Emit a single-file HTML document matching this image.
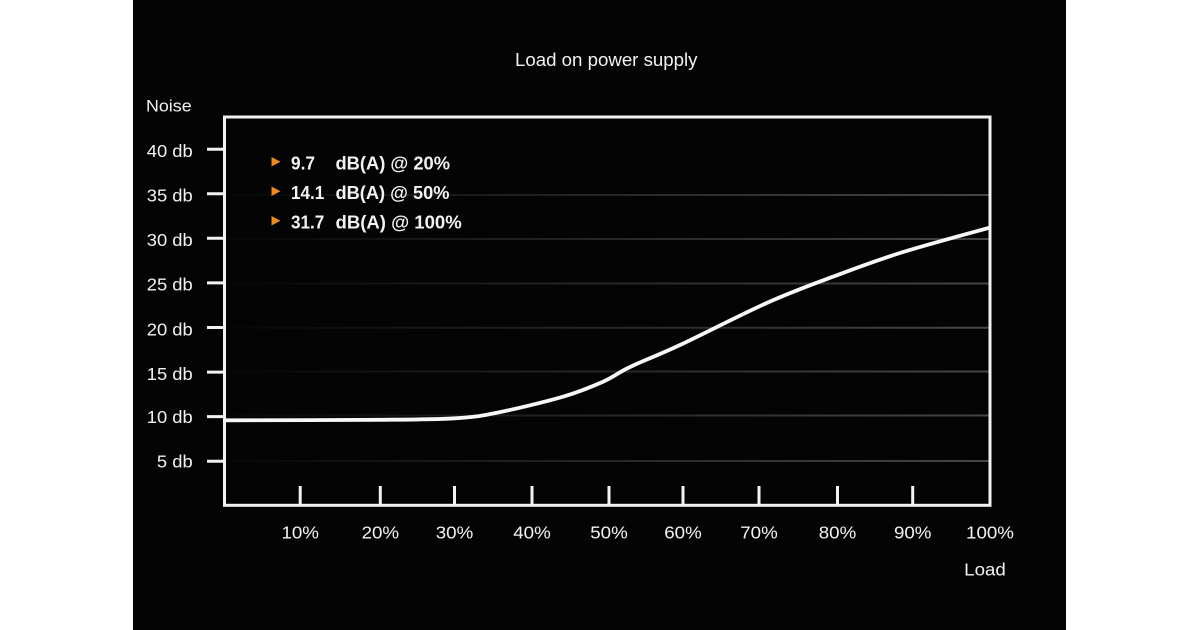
<!DOCTYPE html>
<html>
<head>
<meta charset="utf-8">
<style>
html,body{margin:0;padding:0;background:#ffffff;}
svg{display:block;}
text{font-family:"Liberation Sans",Arial,Helvetica,sans-serif;fill:#f2f2f2;}
</style>
</head>
<body>
<svg width="1200" height="630" viewBox="0 0 1200 630" xmlns="http://www.w3.org/2000/svg">
<defs>
<linearGradient id="gg" x1="225" y1="0" x2="990" y2="0" gradientUnits="userSpaceOnUse">
<stop offset="0" stop-color="#ffffff" stop-opacity="0.01"/>
<stop offset="0.35" stop-color="#ffffff" stop-opacity="0.10"/>
<stop offset="1" stop-color="#ffffff" stop-opacity="0.26"/>
</linearGradient>
</defs>
<rect x="0" y="0" width="1200" height="630" fill="#ffffff"/>
<rect x="133" y="0" width="933" height="630" fill="#040405"/>

<!-- title -->
<g transform="translate(515,66) scale(1.02,1)"><text x="0" y="0" font-size="18.3">Load on power supply</text></g>

<!-- gridlines -->
<g stroke="url(#gg)" stroke-width="2">
<line x1="226" y1="195" x2="989" y2="195"/>
<line x1="226" y1="239" x2="989" y2="239"/>
<line x1="226" y1="283.5" x2="989" y2="283.5"/>
<line x1="226" y1="327.8" x2="989" y2="327.8"/>
<line x1="226" y1="371.5" x2="989" y2="371.5"/>
<line x1="226" y1="415.5" x2="989" y2="415.5"/>
<line x1="226" y1="461" x2="989" y2="461"/>
</g>

<!-- frame -->
<rect x="224.5" y="117" width="765.5" height="388.3" fill="none" stroke="#f2f2f2" stroke-width="3"/>

<!-- y ticks -->
<g stroke="#f2f2f2" stroke-width="3">
<line x1="207" y1="149.2" x2="224" y2="149.2"/>
<line x1="207" y1="193.8" x2="224" y2="193.8"/>
<line x1="207" y1="238.3" x2="224" y2="238.3"/>
<line x1="207" y1="282.9" x2="224" y2="282.9"/>
<line x1="207" y1="327.5" x2="224" y2="327.5"/>
<line x1="207" y1="372.1" x2="224" y2="372.1"/>
<line x1="207" y1="416.6" x2="224" y2="416.6"/>
<line x1="207" y1="461.2" x2="224" y2="461.2"/>
</g>

<!-- x ticks -->
<g stroke="#f2f2f2" stroke-width="3">
<line x1="300.2" y1="486" x2="300.2" y2="505"/>
<line x1="380.3" y1="486" x2="380.3" y2="505"/>
<line x1="454.5" y1="486" x2="454.5" y2="505"/>
<line x1="532" y1="486" x2="532" y2="505"/>
<line x1="609" y1="486" x2="609" y2="505"/>
<line x1="683" y1="486" x2="683" y2="505"/>
<line x1="759" y1="486" x2="759" y2="505"/>
<line x1="837.5" y1="486" x2="837.5" y2="505"/>
<line x1="912.7" y1="486" x2="912.7" y2="505"/>
</g>

<!-- y labels -->
<g transform="translate(146,111.7) scale(1.05,1)"><text x="0" y="0" font-size="17">Noise</text></g>
<g font-size="17.5" text-anchor="end">
<g transform="translate(192.7,157) scale(1.05,1)"><text x="0" y="0">40 db</text></g>
<g transform="translate(192.7,201.6) scale(1.05,1)"><text x="0" y="0">35 db</text></g>
<g transform="translate(192.7,246.1) scale(1.05,1)"><text x="0" y="0">30 db</text></g>
<g transform="translate(192.7,290.7) scale(1.05,1)"><text x="0" y="0">25 db</text></g>
<g transform="translate(192.7,335.3) scale(1.05,1)"><text x="0" y="0">20 db</text></g>
<g transform="translate(192.7,379.9) scale(1.05,1)"><text x="0" y="0">15 db</text></g>
<g transform="translate(192.7,423.2) scale(1.05,1)"><text x="0" y="0">10 db</text></g>
<g transform="translate(192.7,467.5) scale(1.05,1)"><text x="0" y="0">5 db</text></g>
</g>

<!-- x labels -->
<g font-size="18" text-anchor="middle">
<g transform="translate(300.2,538.5) scale(1.04,1)"><text x="0" y="0">10%</text></g>
<g transform="translate(380.3,538.5) scale(1.04,1)"><text x="0" y="0">20%</text></g>
<g transform="translate(454.5,538.5) scale(1.04,1)"><text x="0" y="0">30%</text></g>
<g transform="translate(532,538.5) scale(1.04,1)"><text x="0" y="0">40%</text></g>
<g transform="translate(609,538.5) scale(1.04,1)"><text x="0" y="0">50%</text></g>
<g transform="translate(683,538.5) scale(1.04,1)"><text x="0" y="0">60%</text></g>
<g transform="translate(759,538.5) scale(1.04,1)"><text x="0" y="0">70%</text></g>
<g transform="translate(837.5,538.5) scale(1.04,1)"><text x="0" y="0">80%</text></g>
<g transform="translate(912.7,538.5) scale(1.04,1)"><text x="0" y="0">90%</text></g>
<g transform="translate(990,538.5) scale(1.04,1)"><text x="0" y="0">100%</text></g>
<g transform="translate(985,575.7) scale(1.04,1)"><text x="0" y="0">Load</text></g>
</g>

<!-- legend -->
<g fill="#ef8a1d">
<polygon points="271.5,157 271.5,166.5 280.5,161.75"/>
<polygon points="271.5,186.5 271.5,196 280.5,191.25"/>
<polygon points="271.5,216 271.5,225.5 280.5,220.75"/>
</g>
<g font-size="18" font-weight="bold">
<text x="291" y="169.5" textLength="24" lengthAdjust="spacingAndGlyphs">9.7</text>
<text x="335.5" y="169.5" textLength="114.5" lengthAdjust="spacingAndGlyphs">dB(A) @ 20%</text>
<text x="291" y="199" textLength="33.3" lengthAdjust="spacingAndGlyphs">14.1</text>
<text x="335.5" y="199" textLength="114" lengthAdjust="spacingAndGlyphs">dB(A) @ 50%</text>
<text x="291" y="228.5" textLength="33.3" lengthAdjust="spacingAndGlyphs">31.7</text>
<text x="335.5" y="228.5" textLength="126.2" lengthAdjust="spacingAndGlyphs">dB(A) @ 100%</text>
</g>

<!-- curve -->
<path fill="none" stroke="#f7f7f7" stroke-width="3.8" stroke-linejoin="round" stroke-linecap="round"
d="M225,420.3 C250.8,420.2 341.7,420.1 380,419.8 C418.3,419.5 435.5,419.5 455,418.3 C474.5,417.1 479,416.3 497,412.7 C515,409.1 545.3,401.9 563,396.7 C580.7,391.5 591.8,386.65 603,381.7 C614.2,376.75 617.2,373.1 630,367 C642.8,360.9 657.2,355.7 680,345 C702.8,334.3 741.2,314.4 766.7,303 C792.2,291.6 810.8,285 833,276.7 C855.2,268.4 874,261.2 900,253 C926,244.85 974.2,232 989,227.8"/>
</svg>
</body>
</html>
